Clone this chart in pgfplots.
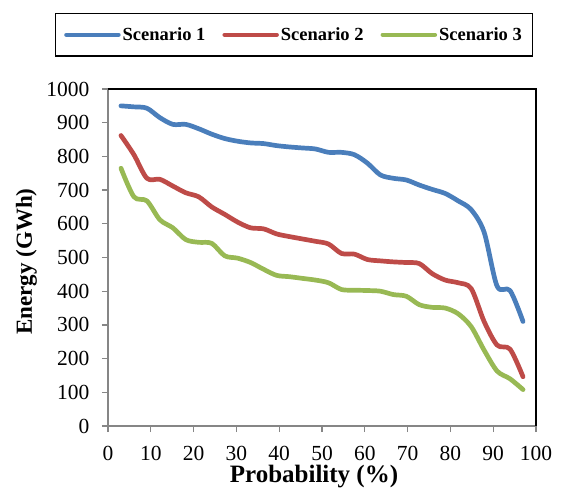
\documentclass[border=0pt]{standalone}
\usepackage{fontspec}
\setmainfont{Liberation Serif}
\usepackage{pgfplots}
\pgfplotsset{compat=1.18}

\definecolor{sone}{HTML}{4A7EBB}
\definecolor{stwo}{HTML}{BE4B48}
\definecolor{sthree}{HTML}{98B954}
\definecolor{axgray}{HTML}{868686}

\begin{document}
\begin{tikzpicture}
\begin{axis}[
  scale only axis, width=428bp, height=337bp,
  xmin=0, xmax=100, ymin=0, ymax=1000,
  xtick={0,10,...,100}, ytick={0,100,...,1000},
  axis x line*=bottom, axis y line*=left,
  axis line style={axgray, line width=1.6bp},
  tick style={axgray, line width=1.3bp},
  tick align=outside, major tick length=6bp,
  /pgf/number format/assume math mode=true,
  /pgf/number format/1000 sep={},
  ticklabel style={font=\fontsize{21.5bp}{24bp}\selectfont},
  xticklabel style={yshift=-11bp},
  yticklabel style={xshift=-9bp},
  xlabel={\textbf{Probability (\%)}},
  ylabel={\textbf{Energy (GWh)}},
  xlabel style={font=\fontsize{25bp}{28bp}\selectfont,
    at={(axis description cs:0.4813,-0.1691)}, anchor=base},
  ylabel style={font=\fontsize{23bp}{26bp}\selectfont,
    at={(axis description cs:-0.1776,0.4881)}, anchor=base},
  clip=false,
  legend columns=3,
  legend style={at={(axis description cs:0.4346,1.2255)}, anchor=north,
    draw=black, line width=1.2bp,
    font=\bfseries\fontsize{18.5bp}{21bp}\selectfont,
    inner xsep=9bp, inner ysep=12bp,
    /tikz/every even column/.append style={column sep=15bp}},
  legend image code/.code={\draw[#1, line width=4.5bp, line cap=round]
    (0bp,0bp) -- (52bp,0bp);},
  every axis plot/.append style={line width=4.7bp, smooth, tension=0.5,
    line join=round, line cap=round},
]
% plot frame: black top and right edges
\draw[black, line width=1.2bp] (rel axis cs:0,1) -- (rel axis cs:1,1) -- (rel axis cs:1,0);
\coordinate (bl) at (rel axis cs:0,0);
\coordinate (tr) at (rel axis cs:1,1);

\addplot[sone] coordinates {
(3.03,950) (6.06,947) (9.09,943) (12.12,915) (15.15,895) (18.18,895)
(21.21,882) (24.24,866) (27.27,853) (30.30,845) (33.33,840) (36.36,838)
(39.39,832) (42.42,828) (45.45,825) (48.48,822) (51.52,812) (54.55,812)
(57.58,805) (60.61,780) (63.64,745) (66.67,735) (69.70,730) (72.73,715)
(75.76,702) (78.79,690) (81.82,668) (84.85,642) (87.88,575) (90.91,415)
(93.94,402) (96.97,310)};
\addlegendentry{Scenario 1}

\addplot[stwo] coordinates {
(3.03,862) (6.06,805) (9.09,735) (12.12,732) (15.15,712) (18.18,692)
(21.21,680) (24.24,650) (27.27,628) (30.30,605) (33.33,588) (36.36,585)
(39.39,570) (42.42,562) (45.45,555) (48.48,548) (51.52,540) (54.55,512)
(57.58,510) (60.61,494) (63.64,490) (66.67,487) (69.70,485) (72.73,482)
(75.76,452) (78.79,433) (81.82,425) (84.85,408) (87.88,310) (90.91,240)
(93.94,228) (96.97,146)};
\addlegendentry{Scenario 2}

\addplot[sthree] coordinates {
(3.03,765) (6.06,680) (9.09,668) (12.12,612) (15.15,588) (18.18,553)
(21.21,545) (24.24,542) (27.27,505) (30.30,498) (33.33,485) (36.36,465)
(39.39,447) (42.42,443) (45.45,438) (48.48,433) (51.52,425) (54.55,405)
(57.58,403) (60.61,402) (63.64,400) (66.67,390) (69.70,385) (72.73,360)
(75.76,352) (78.79,350) (81.82,333) (84.85,295) (87.88,225) (90.91,163)
(93.94,140) (96.97,108)};
\addlegendentry{Scenario 3}
\end{axis}
\pgfresetboundingbox
\path[use as bounding box] ([xshift=-108bp,yshift=-67bp]bl) rectangle ([xshift=26bp,yshift=89bp]tr);
\end{tikzpicture}
\end{document}
